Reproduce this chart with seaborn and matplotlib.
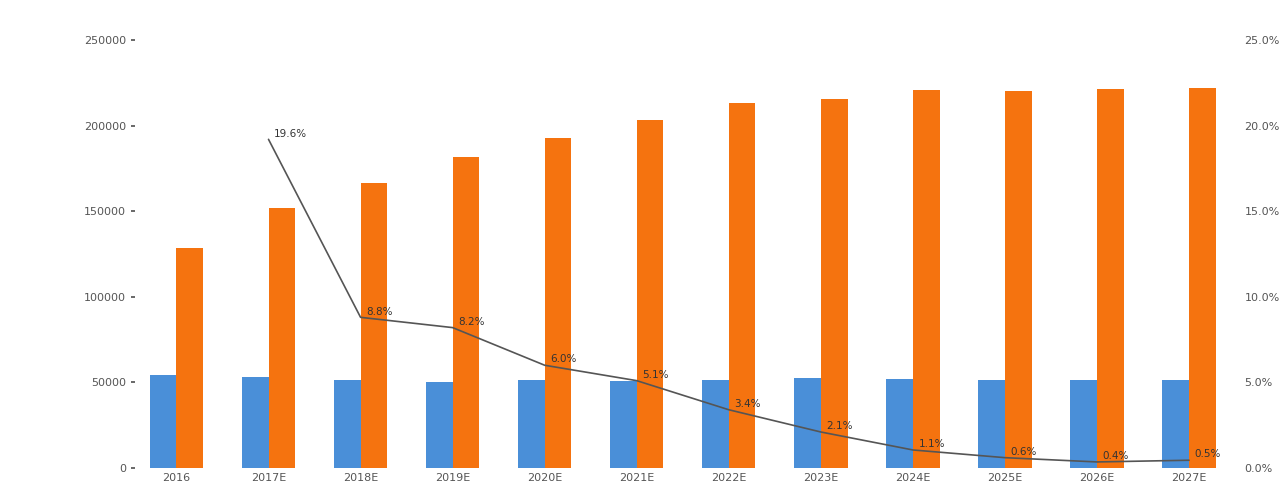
import matplotlib
matplotlib.use("Agg")
import matplotlib.pyplot as plt
import seaborn as sns
import pandas as pd
import numpy as np
from matplotlib.ticker import FuncFormatter

categories = ["2016", "2017E", "2018E", "2019E", "2020E", "2021E",
              "2022E", "2023E", "2024E", "2025E", "2026E", "2027E"]
series_names = ["A", "B"]
blue_values = [54300, 53200, 51400, 50200, 51400, 50800,
               51400, 52500, 51900, 51400, 51400, 51400]
orange_values = [128500, 151900, 166500, 181700, 192800, 203300,
                 213200, 215500, 220800, 220200, 221400, 221900]
growth_values = [None, 19.2, 8.8, 8.2, 6.0, 5.1, 3.4, 2.1, 1.05, 0.6, 0.35, 0.45]
growth_labels = [None, "19.6%", "8.8%", "8.2%", "6.0%", "5.1%", "3.4%",
                 "2.1%", "1.1%", "0.6%", "0.4%", "0.5%"]
left_ticks = [0, 50000, 100000, 150000, 200000, 250000]
right_ticks = [0, 5, 10, 15, 20, 25]

sns.set_theme(style="white")
plt.rcParams['font.family'] = ['DejaVu Sans']

df = pd.DataFrame({
    "category": categories * 2,
    "series": [series_names[0]] * len(categories) + [series_names[1]] * len(categories),
    "value": blue_values + orange_values,
})

fig = plt.figure(figsize=(12.86, 5.01), dpi=100)
ax = fig.add_axes([0.105, 0.066, 0.859, 0.854])
sns.barplot(data=df, x="category", y="value", hue="series", order=categories,
            palette=["#4a8fd8", "#f5730f"], width=0.58, ax=ax, legend=False,
            saturation=1, errorbar=None, linewidth=0, edgecolor="none")
ax.set_xlim(-0.45, 11.55)
ax.set_ylim(0, 250000)
ax.set_yticks(left_ticks)
ax.yaxis.set_major_formatter(FuncFormatter(lambda v, p: f"{int(v)}"))
ax.set_xlabel("")
ax.set_ylabel("")
ax.tick_params(axis="both", labelsize=8, colors="#555555", length=3)
ax.tick_params(axis="x", length=0)
for s in ax.spines.values():
    s.set_visible(False)

ax2 = ax.twinx()
gdf = pd.DataFrame({"x": list(range(len(categories))),
                    "g": [np.nan if v is None else v for v in growth_values]})
sns.lineplot(data=gdf.dropna(), x="x", y="g", ax=ax2, color="#555555", linewidth=1.2)
ax2.set_ylim(0, 25)
ax2.set_yticks(right_ticks)
ax2.yaxis.set_major_formatter(FuncFormatter(lambda v, p: f"{v:.1f}%"))
ax2.set_xlim(-0.45, 11.55)
ax2.set_ylabel("")
ax2.tick_params(axis="y", labelsize=8, colors="#555555", length=0)
for s in ax2.spines.values():
    s.set_visible(False)
for i, (v, lab) in enumerate(zip(growth_values, growth_labels)):
    if v is None:
        continue
    ax2.annotate(lab, (i, v), xytext=(4, 2), textcoords="offset points",
                 fontsize=7.5, color="#333333")

fig.savefig("out.png", dpi=100)
